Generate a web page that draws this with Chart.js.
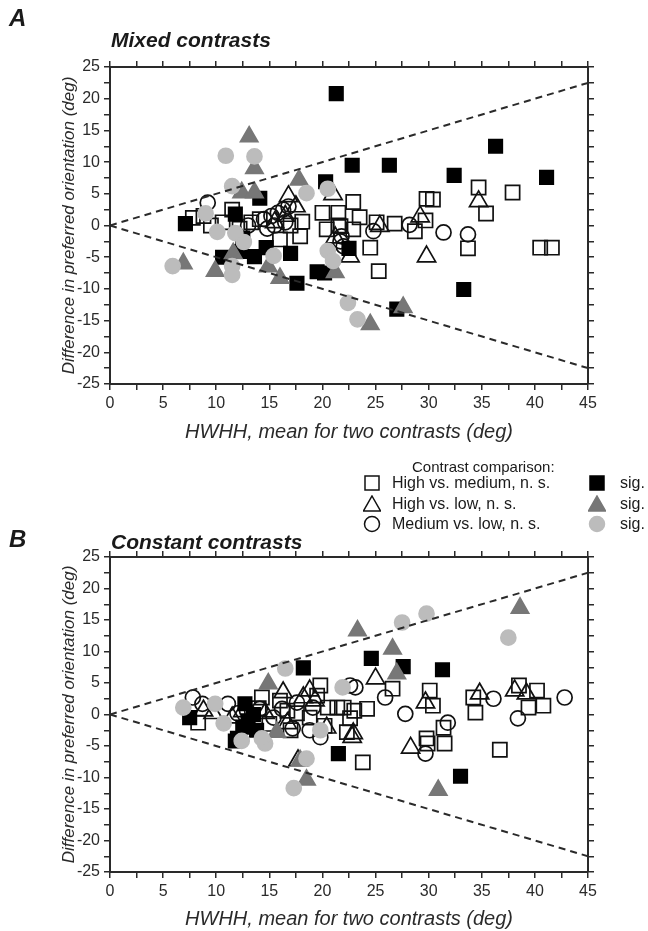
<!DOCTYPE html>
<html>
<head>
<meta charset="utf-8">
<script src="https://cdn.jsdelivr.net/npm/chart.js@4.4.0/dist/chart.umd.min.js"></script>
<style>
  body { margin: 0; background: #fff; }
  #page { position: relative; width: 648px; height: 931px; overflow: hidden; background: #fff;
          font-family: "Liberation Sans", Arial, sans-serif; color: #1a1a1a; }
  canvas { position: absolute; left: 0; }
  .txt { position: absolute; white-space: nowrap; line-height: 1; }
  .panel { font-weight: bold; font-style: italic; }
  .leg { font-size: 16px; }
  .mk { position: absolute; }
</style>
</head>
<body>
<div id="page">
  <canvas id="mixed" width="648" height="450" style="top:0"></canvas>
  <canvas id="constant" width="648" height="481" style="top:450px"></canvas>

  <div class="txt panel" style="left:9px; top:6px; font-size:24px;">A</div>
  <div class="txt panel" style="left:111px; top:29px; font-size:21px;">Mixed contrasts</div>
  <div class="txt panel" style="left:9px; top:527px; font-size:24px;">B</div>
  <div class="txt panel" style="left:111px; top:531px; font-size:21px;">Constant contrasts</div>

  <div class="txt" style="left:412px; top:459px; font-size:15px;">Contrast comparison:</div>
  <div id="legend"></div>
</div>

<script>
// panel A: mixed contrasts  [HWHH, difference]
const mixedSigHighMed = [[21.3,20.8],[22.8,9.5],[26.3,9.5],[32.4,7.9],[36.3,12.5],[41.1,7.6],[20.3,6.9],
  [14.1,4.3],[7.1,0.3],[11.8,1.8],[12.5,-2],[10.6,-5.0],[12.3,-4.1],[13.6,-4.9],[14.7,-3.5],[17.0,-4.4],
  [17.6,-9.1],[19.5,-7.3],[20.2,-7.5],[22.5,-3.6],[27.0,-13.2],[33.3,-10.1]];
const mixedSigHighLow = [[13.1,14.0],[13.6,9.0],[12.4,5.2],[13.6,5.2],[17.8,7.2],[6.9,-6.0],[9.9,-7.2],
  [11.6,-4.4],[14.9,-6.5],[16.0,-8.3],[21.2,-7.4],[27.6,-12.9],[24.5,-15.6]];
const mixedSigMedLow = [[10.9,11.0],[13.6,10.9],[11.5,6.2],[9.0,1.9],[10.1,-1.0],[11.8,-1.2],[12.6,-2.6],
  [18.5,5.1],[20.5,5.8],[5.9,-6.4],[11.5,-6.4],[11.5,-7.8],[15.4,-4.8],[20.5,-4.0],[21.0,-5.6],
  [22.4,-12.2],[23.3,-14.8]];
const mixedNsHighMed = [[34.7,6.0],[37.9,5.2],[35.4,1.9],[40.5,-3.5],[41.6,-3.5],[33.7,-3.6],[25.3,-7.2],
  [24.5,-3.5],[28.7,-0.9],[22.9,3.7],[20.0,2.0],[21.5,2.0],[21.5,0.0],[23.5,1.3],[29.8,4.2],[30.4,4.1],
  [29.7,0.8],[18.1,0.6],[25.1,0.5],[7.8,1.2],[8.8,1.5],[10.6,0.5],[11.5,2.5],[13.3,0.5],[14.1,1.0],
  [16.0,-2.2],[17.9,-1.7],[20.4,-0.6],[21.7,-0.1],[22.9,-0.6],[9.5,0.0],[12.2,-0.5],[17.0,0.0],[26.8,0.3]];
const mixedNsHighLow = [[16.8,4.6],[17.5,3.0],[16.5,1.5],[21.0,4.9],[34.7,3.8],[29.8,-4.9],[25.4,-0.1],
  [29.2,1.4],[22.6,-4.9],[21.2,-1.9],[15.5,0.5]];
const mixedNsMedLow = [[9.2,3.6],[14.5,1.0],[15.2,1.5],[15.8,2.0],[16.3,2.5],[16.8,3.0],[15.5,0.0],
  [16.5,0.5],[14.8,-0.5],[28.2,0.1],[31.4,-1.1],[21.8,-1.7],[24.8,-0.9],[33.7,-1.4],[21.7,-2.5],
  [22.0,-3.3],[13.0,0.0]];

// panel B: constant contrasts
const constSigHighMed = [[18.2,7.4],[24.6,8.9],[27.6,7.6],[31.3,7.1],[21.5,-6.2],[33.0,-9.8],[11.8,-4.2],
  [7.5,-0.5],[12.7,1.7],[12.0,-3.8],[13.0,-1.0],[13.5,0.0],[12.5,-2.0],[13.8,-2.5]];
const constSigHighLow = [[23.3,13.3],[26.6,10.4],[27.0,6.5],[15.7,-2.8],[38.6,16.9],[30.9,-12.0],
  [18.5,-10.4],[17.9,-7.3],[14.9,4.9]];
const constSigMedLow = [[27.5,14.6],[29.8,16.0],[16.5,7.3],[21.9,4.3],[19.8,-2.5],[37.5,12.2],[17.3,-11.7],
  [18.5,-7.0],[14.6,-4.6],[12.4,-4.2],[6.9,1.1],[9.9,1.7],[10.7,-1.4],[14.3,-3.8]];
const constNsHighMed = [[34.2,2.7],[34.4,0.3],[38.5,4.6],[40.2,3.8],[39.4,1.1],[40.8,1.4],[36.7,-5.6],
  [31.5,-4.6],[23.8,-7.6],[29.9,-4.6],[19.8,4.6],[24.2,0.9],[26.6,4.1],[30.1,3.8],[30.4,1.4],[21.4,1.1],
  [22.6,-0.6],[29.8,-3.8],[31.4,-2.1],[8.3,-1.3],[14.3,2.7],[16.0,2.2],[19.5,3.0],[16.7,0.6],[17.6,0.2],
  [18.8,-0.5],[20.5,1.1],[22.0,1.1],[23.0,0.6],[15.0,-1.5],[17.0,-2.5],[20.2,-1.8],[22.3,-2.8],[14.0,1.0]];
const constNsHighLow = [[34.8,3.3],[38.1,3.8],[39.2,3.3],[25.0,5.7],[29.7,1.9],[28.3,-5.3],[22.8,-3.6],
  [16.3,3.5],[19.3,2.2],[17.7,-7.3],[14.6,0.2],[16.7,-1.4],[18.2,2.7],[18.8,3.8],[20.4,-2.1],[22.9,-3.0],
  [9.7,0.2],[8.8,0.6],[12.5,0.5],[11.5,-0.5]];
const constNsMedLow = [[36.1,2.5],[42.8,2.7],[38.4,-0.6],[31.8,-1.3],[23.1,4.3],[25.9,2.7],[27.8,0.1],
  [18.8,-2.5],[29.7,-6.2],[7.8,2.7],[8.7,1.7],[11.1,1.7],[12.0,0.2],[12.9,0.6],[14.1,0.9],[15.4,-0.5],
  [16.2,0.9],[17.6,1.9],[19.1,1.1],[17.2,-2.2],[19.8,-3.6],[22.6,4.6]];

// dashed bounds (difference = +/- half the HWHH)
const boundX = [0, 45];
const boundUpper = [0, 22.5];
const boundLower = [0, -22.5];

const xTickLabels = [0, 5, 10, 15, 20, 25, 30, 35, 40, 45];
const yTickLabels = [-25, -20, -15, -10, -5, 0, 5, 10, 15, 20, 25];

const FONT = '"Liberation Sans", Arial, sans-serif';
const INK = '#2a2a2a';
const DARK_GRAY = '#777777';
const LIGHT_GRAY = '#bcbcbc';

function toPoints(arr) {
  return arr.map(p => ({ x: p[0], y: p[1] }));
}

function marks(arr, style, fill, line, r, order) {
  return {
    data: toPoints(arr),
    pointStyle: style,
    pointRadius: r,
    pointBackgroundColor: fill,
    pointBorderColor: line,
    pointBorderWidth: 1.7,
    showLine: false,
    order: order
  };
}

function bound(ys) {
  return {
    data: boundX.map((x, i) => ({ x: x, y: ys[i] })),
    showLine: true,
    borderColor: INK,
    borderWidth: 2,
    borderDash: [7, 5],
    pointRadius: 0,
    fill: false,
    order: 0
  };
}

function panelOptions(bottomH, topH, titlePad) {
  const grid = { drawOnChartArea: false, drawTicks: true, tickLength: 6, color: INK, lineWidth: 1.5 };
  const border = { display: true, color: INK, width: 2 };
  const tickFont = { family: FONT, size: 16 };
  const xLabel = v => (xTickLabels.includes(Math.round(v * 10) / 10) ? String(Math.round(v)) : '');
  const yLabel = v => (yTickLabels.includes(Math.round(v * 10) / 10) ? String(Math.round(v)) : '');
  return {
    responsive: false,
    animation: false,
    events: [],
    layout: { padding: 0 },
    plugins: { legend: { display: false }, tooltip: { enabled: false } },
    scales: {
      x: {
        type: 'linear', position: 'bottom', min: 0, max: 45,
        ticks: { stepSize: 2.5, autoSkip: false, maxRotation: 0, callback: xLabel, font: tickFont, color: INK, padding: 4 },
        grid: grid, border: border,
        title: { display: true, text: 'HWHH, mean for two contrasts (deg)', color: INK,
                 font: { family: FONT, size: 20, style: 'italic' }, padding: { top: 0, bottom: titlePad } },
        afterFit: s => { s.height = bottomH; }
      },
      x2: {
        type: 'linear', position: 'top', min: 0, max: 45,
        ticks: { stepSize: 2.5, display: false },
        grid: grid, border: border,
        afterFit: s => { s.height = topH; }
      },
      y: {
        type: 'linear', position: 'left', min: -25, max: 25,
        ticks: { stepSize: 2.5, autoSkip: false, callback: yLabel, font: tickFont, color: INK, padding: 4 },
        grid: grid, border: border,
        title: { display: true, text: 'Difference in preferred orientation (deg)', color: INK,
                 font: { family: FONT, size: 17, style: 'italic' }, padding: { top: 59, bottom: 0 } },
        afterFit: s => { s.width = 110; }
      },
      y2: {
        type: 'linear', position: 'right', min: -25, max: 25,
        ticks: { stepSize: 2.5, display: false },
        grid: grid, border: border,
        afterFit: s => { s.width = 60; }
      }
    }
  };
}

function panelData(nsHM, nsHL, nsML, sigHM, sigHL, sigML) {
  return {
    datasets: [
      bound(boundUpper),
      bound(boundLower),
      marks(sigML, 'circle', LIGHT_GRAY, LIGHT_GRAY, 7.5, 1),
      marks(sigHL, 'triangle', DARK_GRAY, DARK_GRAY, 10, 2),
      marks(sigHM, 'rect', '#000', '#000', 9.5, 3),
      marks(nsML, 'circle', 'rgba(0,0,0,0)', '#111', 7.5, 4),
      marks(nsHL, 'triangle', 'rgba(0,0,0,0)', '#111', 10.5, 5),
      marks(nsHM, 'rect', 'rgba(0,0,0,0)', '#111', 10, 6)
    ]
  };
}

new Chart(document.getElementById('mixed'), {
  type: 'scatter',
  data: panelData(mixedNsHighMed, mixedNsHighLow, mixedNsMedLow, mixedSigHighMed, mixedSigHighLow, mixedSigMedLow),
  options: panelOptions(66, 67, 6)
});

new Chart(document.getElementById('constant'), {
  type: 'scatter',
  data: panelData(constNsHighMed, constNsHighLow, constNsMedLow, constSigHighMed, constSigHighLow, constSigMedLow),
  options: panelOptions(59, 107, 0)
});

// legend
const legendRows = [
  { label: 'High vs. medium, n. s.', shape: 'rect', fill: '#000', y: 483 },
  { label: 'High vs. low, n. s.', shape: 'tri', fill: DARK_GRAY, y: 504 },
  { label: 'Medium vs. low, n. s.', shape: 'circ', fill: LIGHT_GRAY, y: 524 }
];

function marker(shape, fill, stroke) {
  const sw = 1.5;
  let body;
  if (shape === 'rect') body = `<rect x="2" y="2" width="14" height="14" fill="${fill}" stroke="${stroke}" stroke-width="${sw}"/>`;
  else if (shape === 'tri') body = `<polygon points="9,1 17.5,16 0.5,16" fill="${fill}" stroke="${stroke}" stroke-width="${sw}"/>`;
  else body = `<circle cx="9" cy="9" r="7.5" fill="${fill}" stroke="${stroke}" stroke-width="${sw}"/>`;
  return `<svg width="18" height="18" viewBox="0 0 18 18">${body}</svg>`;
}

const leg = document.getElementById('legend');
let html = '';
legendRows.forEach(r => {
  html += `<div class="mk" style="left:363px; top:${r.y - 9}px;">${marker(r.shape, 'none', '#111')}</div>`;
  html += `<div class="txt leg" style="left:392px; top:${r.y - 8}px;">${r.label}</div>`;
  html += `<div class="mk" style="left:588px; top:${r.y - 9}px;">${marker(r.shape, r.fill, r.fill)}</div>`;
  html += `<div class="txt leg" style="left:620px; top:${r.y - 8}px;">sig.</div>`;
});
leg.innerHTML = html;
</script>
</body>
</html>
